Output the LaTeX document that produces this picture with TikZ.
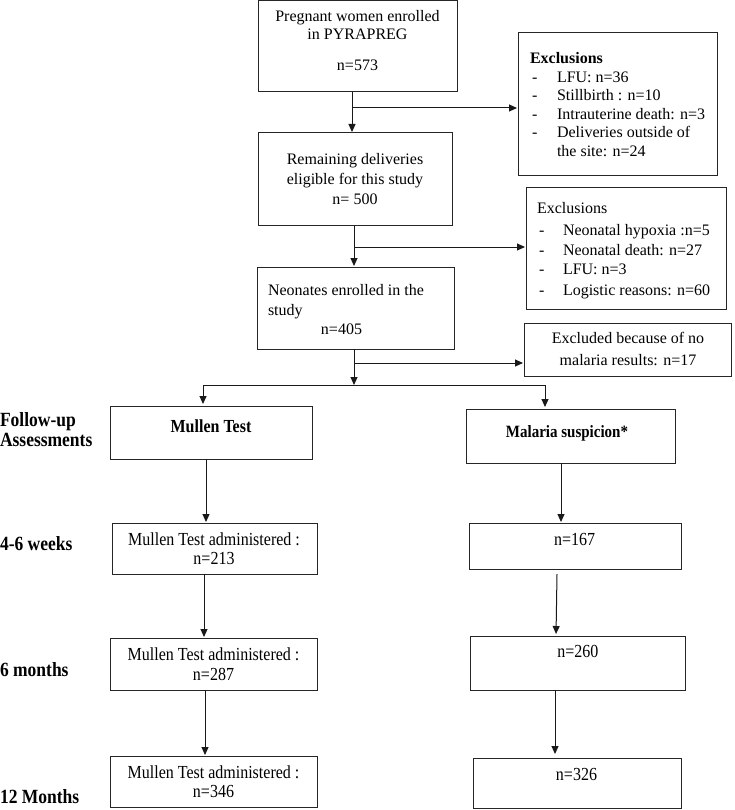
\documentclass[tikz,border=0pt]{standalone}
\usepackage{graphicx}
\usepackage{fontspec}
\setmainfont{Liberation Serif}
\usetikzlibrary{arrows.meta}
\newcommand\vstr[1]{\scalebox{1}[1.15]{#1}}
\tikzset{
  box/.style={draw=black!85, line width=1pt, inner sep=0pt, outer sep=0pt},
  txt/.style={inner sep=0pt, outer sep=0pt, font=\fontsize{16}{18.6}\selectfont},
  btxt/.style={txt, font=\fontsize{16}{18.6}\selectfont\bfseries},
  lbl/.style={inner sep=0pt, outer sep=0pt, anchor=base west, font=\fontsize{17.5}{20}\selectfont\bfseries},
  arr/.style={draw=black!90, line width=1pt, -{Triangle[length=8pt,width=7pt]}, shorten >=1pt},
  ln/.style={draw=black!90, line width=1pt}
}
\begin{document}
\begin{tikzpicture}[x=1pt,y=-1pt]
\useasboundingbox[fill=white] (0,0) rectangle (734,810);
% boxes
\node[box, minimum width=199pt, minimum height=91pt] (b1) at (357.5,46.5) {};
\node[box, minimum width=194pt, minimum height=93pt] (b2) at (355,179.5) {};
\node[box, minimum width=197pt, minimum height=82pt] (b3) at (355.5,308) {};
\node[box, minimum width=199pt, minimum height=143pt] (e1) at (617.5,104.5) {};
\node[box, minimum width=200pt, minimum height=121pt] (e2) at (626,248.5) {};
\node[box, minimum width=207pt, minimum height=53pt] (e3) at (627.5,349.5) {};
\node[box, minimum width=202pt, minimum height=53pt] (mt) at (211,432.5) {};
\node[box, minimum width=209pt, minimum height=54pt] (ms) at (570.5,436) {};
\node[box, minimum width=205pt, minimum height=51pt] (m1) at (214.5,548.5) {};
\node[box, minimum width=207pt, minimum height=52pt] (m2) at (213.5,664) {};
\node[box, minimum width=207pt, minimum height=51pt] (m3) at (213.5,781.5) {};
\node[box, minimum width=212pt, minimum height=46pt] (p1) at (575,546) {};
\node[box, minimum width=215pt, minimum height=54pt] (p2) at (577.5,663) {};
\node[box, minimum width=208pt, minimum height=50pt] (p3) at (577,783) {};
% texts in main boxes
\node[txt, anchor=base] (t1a) at (357.5,22) {Pregnant women enrolled};
\node[txt, anchor=base] (t1b) at (357.5,40) {in PYRAPREG};
\node[txt, anchor=base] (t1c) at (357.5,71) {n=573};
\node[txt, anchor=base] (t2a) at (355,165) {Remaining deliveries};
\node[txt, anchor=base] (t2b) at (355,185) {eligible for this study};
\node[txt, anchor=base] (t2c) at (355,205) {n= 500};
\node[txt, anchor=base west] (t3a) at (268,295) {Neonates enrolled in the};
\node[txt, anchor=base west] (t3b) at (268,315) {study};
\node[txt, anchor=base] (t3c) at (341.5,334) {n=405};
% exclusions 1
\node[btxt, anchor=base west] (x1h) at (530,64) {Exclusions};
\foreach \t/\y [count=\i] in {{LFU: n=36}/83, {Stillbirth : n=10}/101, {Intrauterine death: n=3}/120, {Deliveries outside of}/138} {
  \node[txt, anchor=base west] (x1d\i) at (532,\y) {-};
  \node[txt, anchor=base west] (x1t\i) at (557,\y) {\t};
}
\node[txt, anchor=base west] (x1t5) at (557,157) {the site: n=24};
% exclusions 2
\node[txt, anchor=base west] (x2h) at (537,214) {Exclusions};
\foreach \t/\y [count=\i] in {{Neonatal hypoxia :n=5}/236, {Neonatal death: n=27}/255, {LFU: n=3}/274, {Logistic reasons: n=60}/295} {
  \node[txt, anchor=base west] (x2d\i) at (539,\y) {-};
  \node[txt, anchor=base west] (x2t\i) at (563,\y) {\t};
}
% excluded
\node[txt, anchor=base] (x3a) at (628,343) {Excluded because of no};
\node[txt, anchor=base] (x3b) at (628,365) {malaria results: n=17};
% follow-up boxes
\node[btxt, anchor=base] (tmt) at (211,432.5) {\vstr{Mullen Test}};
\node[btxt, anchor=base, font=\fontsize{15}{18}\selectfont\bfseries] (tms) at (567,437) {\vstr{Malaria suspicion*}};
\node[txt, anchor=base] (tm1a) at (214,545.5) {\vstr{Mullen Test administered :}};
\node[txt, anchor=base] (tm1b) at (214,564.5) {\vstr{n=213}};
\node[txt, anchor=base] (tm2a) at (213.5,660.5) {\vstr{Mullen Test administered :}};
\node[txt, anchor=base] (tm2b) at (213.5,680.5) {\vstr{n=287}};
\node[txt, anchor=base] (tm3a) at (213.5,778.5) {\vstr{Mullen Test administered :}};
\node[txt, anchor=base] (tm3b) at (213.5,797.5) {\vstr{n=346}};
\node[txt, anchor=base] (tp1) at (574.7,545.5) {\vstr{n=167}};
\node[txt, anchor=base] (tp2) at (577.8,657.5) {\vstr{n=260}};
\node[txt, anchor=base] (tp3) at (576.5,780.5) {\vstr{n=326}};
% left labels
\node[lbl] (l0a) at (0,426) {\vstr{Follow-up}};
\node[lbl] (l0b) at (0,446) {\vstr{Assessments}};
\node[lbl] (l1) at (0,550) {\vstr{4-6 weeks}};
\node[lbl] (l2) at (0,676) {\vstr{6 months}};
\node[lbl] (l3) at (0,803) {\vstr{12 Months}};
% connectors
\coordinate (k1) at (352,108);
\coordinate (k2) at (354,247);
\coordinate (k3) at (354,363);
\coordinate (j) at (354,385);
\coordinate (jl) at (203,385);
\coordinate (jr) at (545,385);
\draw[arr] (b1.south -| k1) -- (b2.north -| k1);
\draw[arr] (k1) -- (k1 -| e1.west);
\draw[arr] (b2.south -| k2) -- (b3.north -| k2);
\draw[arr] (k2) -- (k2 -| e2.west);
\draw[arr, shorten >=0pt] (b3.south -| k3) -- (j);
\draw[arr] (k3) -- (k3 -| e3.west);
\draw[ln] (jl) -- (jr);
\draw[arr, shorten >=2pt] (jl) -- (jl |- mt.north);
\draw[arr, shorten >=2pt] (jr) -- (jr |- ms.north);
\draw[arr] ([xshift=-5pt]mt.south) -- ([xshift=-5pt]mt.south |- m1.north);
\draw[arr] ([xshift=-10.5pt]m1.south) -- ([xshift=-10.5pt]m1.south |- m2.north);
\draw[arr] ([xshift=-8.5pt]m2.south) -- ([xshift=-8.5pt]m2.south |- m3.north);
\draw[arr] ([xshift=-9.5pt]ms.south) -- ([xshift=-9.5pt]ms.south |- p1.north);
\draw[arr, shorten >=2pt] ([xshift=-18pt,yshift=-5pt]p1.south) -- ([xshift=-21.5pt]p2.north);
\draw[arr, shorten >=4pt] ([xshift=-22.5pt]p2.south) -- ([xshift=-22.5pt]p2.south |- p3.north);
\end{tikzpicture}
\end{document}
